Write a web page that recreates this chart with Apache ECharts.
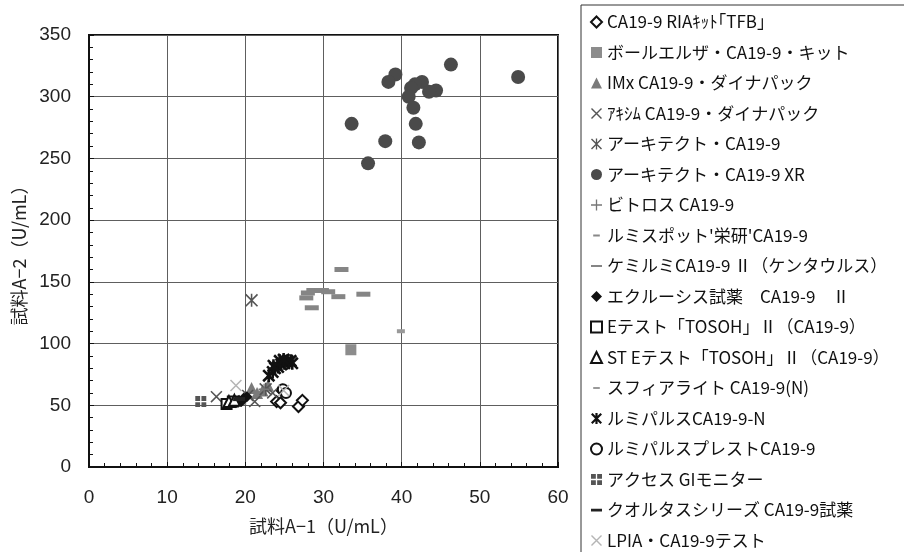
<!DOCTYPE html>
<html>
<head>
<meta charset="utf-8">
<script src="https://cdn.jsdelivr.net/npm/echarts@6/dist/echarts.min.js"></script>
<style>
  html, body { margin: 0; padding: 0; background: #fff; }
  #main { width: 904px; height: 552px; }
</style>
</head>
<body>
<div id="main"></div>
<script>
// ========================================
// データ（[試料A-1, 試料A-2] U/mL）
// ========================================
const seriesNames = [
  'CA19-9 RIAｷｯﾄ｢TFB｣',
  'ボールエルザ・CA19-9・キット',
  'IMx CA19-9・ダイナパック',
  'ｱｷｼﾑ CA19-9・ダイナパック',
  'アーキテクト・CA19-9',
  'アーキテクト・CA19-9 XR',
  'ビトロス CA19-9',
  'ルミスポット\'栄研\'CA19-9',
  'ケミルミCA19-9 Ⅱ（ケンタウルス）',
  'エクルーシス試薬　CA19-9　Ⅱ',
  'Eテスト「TOSOH」Ⅱ（CA19-9）',
  'ST Eテスト「TOSOH」Ⅱ（CA19-9）',
  'スフィアライト CA19-9(N)',
  'ルミパルスCA19-9-N',
  'ルミパルスプレストCA19-9',
  'アクセス GIモニター',
  'クオルタスシリーズ CA19-9試薬',
  'LPIA・CA19-9テスト'
];

const riaData = [[24.0, 53], [24.5, 52], [24.7, 62], [26.8, 49], [27.3, 54]];
const ballData = [[33.5, 95]];
const imxData = [[20.8, 64], [22.9, 66], [22.2, 62], [21.5, 60]];
const axsymData = [[16.3, 57], [21.2, 53], [20.3, 58], [23.5, 60]];
const architectData = [[20.8, 135], [22.6, 63]];
const architectXrData = [
  [46.3, 326], [54.9, 316], [39.2, 318], [38.3, 312], [42.6, 312],
  [41.7, 310], [41.2, 307], [44.4, 305], [43.5, 304], [40.9, 300],
  [41.5, 291], [33.6, 278], [41.8, 278], [37.9, 264], [42.2, 263],
  [35.7, 246]
];
const vitrosData = [[22.4, 63]];
const lumispotData = [[19.6, 52]];
const chemilumiData = [
  [32.3, 160], [28.7, 143], [29.8, 143], [30.6, 142], [28.0, 141],
  [27.8, 137], [31.9, 138], [35.1, 140], [28.5, 129]
];
const eclusysData = [[19.2, 54], [19.8, 56], [18.8, 52], [20.2, 57], [19.5, 53]];
const etestData = [[17.6, 51], [18.4, 53]];
const stEtestData = [[17.9, 53], [18.6, 54]];
const sphereData = [[39.9, 110]];
const lumipulseData = [
  [23.0, 74], [23.5, 77], [23.8, 80], [24.2, 81], [24.6, 83], [25.0, 84],
  [25.4, 86], [25.8, 86], [24.4, 86], [26.0, 84], [23.6, 82], [24.9, 87]
];
const prestoData = [[24.8, 63], [25.2, 60]];
const accessData = [[14.3, 53]];
const qualtasData = [[19.2, 55]];
const lpiaData = [[18.8, 66], [24.9, 62]];

const xTicks = { min: 0, max: 60, interval: 10 };
const yTicks = { min: 0, max: 350, interval: 50 };

// ========================================
// シンボル（path）
// ========================================
const PATH_X = 'path://M0,0.9 L0.9,0 L10,9.1 L9.1,10 Z M9.1,0 L10,0.9 L0.9,10 L0,9.1 Z';
const PATH_STAR = 'path://M0,0.9 L0.9,0 L10,9.1 L9.1,10 Z M9.1,0 L10,0.9 L0.9,10 L0,9.1 Z M4.4,0 L5.6,0 L5.6,10 L4.4,10 Z';
const PATH_STAR_BOLD = 'path://M0,1.4 L1.4,0 L10,8.6 L8.6,10 Z M8.6,0 L10,1.4 L1.4,10 L0,8.6 Z M4,0 L6,0 L6,10 L4,10 Z';
const PATH_PLUS = 'path://M4.4,0 L5.6,0 L5.6,10 L4.4,10 Z M0,4.4 L10,4.4 L10,5.6 L0,5.6 Z';
const PATH_GRID = 'path://M0,0 L4.4,0 L4.4,4.4 L0,4.4 Z M5.6,0 L10,0 L10,4.4 L5.6,4.4 Z M0,5.6 L4.4,5.6 L4.4,10 L0,10 Z M5.6,5.6 L10,5.6 L10,10 L5.6,10 Z';
// 凡例用（外枠を確保した短い棒）
const dot = function(x, y) { return 'M' + x + ',' + y + ' L' + (x + 0.01) + ',' + y + ' L' + x + ',' + (y + 0.01) + ' Z '; };
const PAD = dot(0, 0) + dot(9.99, 9.99);
const ICON_DASH_SHORT = 'path://' + PAD + 'M2,4 L8,4 L8,6 L2,6 Z';
const ICON_DASH_LONG = 'path://' + PAD + 'M0,4 L10,4 L10,6 L0,6 Z';
const ICON_DASH_BOLD = 'path://' + PAD + 'M0,3.8 L10,3.8 L10,6.4 L0,6.4 Z';

const styles = [
  { data: riaData, symbol: 'emptyDiamond', size: 11, color: '#111', icon: 'emptyDiamond' },
  { data: ballData, symbol: 'rect', size: 11, color: '#8c8c8c', icon: 'rect' },
  { data: imxData, symbol: 'triangle', size: 12, color: '#7a7a7a', icon: 'triangle' },
  { data: axsymData, symbol: PATH_X, size: 12, color: '#555', icon: PATH_X },
  { data: architectData, symbol: PATH_STAR, size: 13, color: '#555', icon: PATH_STAR },
  { data: architectXrData, symbol: 'circle', size: 14, color: '#4a4a4a', icon: 'circle' },
  { data: vitrosData, symbol: PATH_PLUS, size: 11, color: '#777', icon: PATH_PLUS },
  { data: lumispotData, symbol: 'rect', size: [8, 4], color: '#888', icon: ICON_DASH_SHORT },
  { data: chemilumiData, symbol: 'rect', size: [14, 5], color: '#858585', icon: ICON_DASH_LONG },
  { data: eclusysData, symbol: 'diamond', size: 11, color: '#111', icon: 'diamond' },
  { data: etestData, symbol: 'emptyRect', size: 10, color: '#111', icon: 'emptyRect' },
  { data: stEtestData, symbol: 'emptyTriangle', size: 11, color: '#111', icon: 'emptyTriangle' },
  { data: sphereData, symbol: 'rect', size: [8, 4], color: '#999', icon: ICON_DASH_SHORT },
  { data: lumipulseData, symbol: PATH_STAR_BOLD, size: 13, color: '#111', icon: PATH_STAR_BOLD },
  { data: prestoData, symbol: 'emptyCircle', size: 10, color: '#111', icon: 'emptyCircle' },
  { data: accessData, symbol: PATH_GRID, size: 11, color: '#555', icon: PATH_GRID },
  { data: qualtasData, symbol: 'rect', size: [12, 4], color: '#222', icon: ICON_DASH_BOLD },
  { data: lpiaData, symbol: PATH_X, size: 12, color: '#b5b5b5', icon: PATH_X }
];

// ========================================
// チャート
// ========================================
const FONT = '"Liberation Sans", "Noto Sans CJK JP", sans-serif';
const JP_FONT = '"Noto Sans CJK JP", sans-serif';
const myChart = echarts.init(document.getElementById('main'));

const series = styles.map(function(s, i) {
  return {
    name: seriesNames[i],
    type: 'scatter',
    data: s.data,
    symbol: s.symbol,
    symbolSize: s.size,
    itemStyle: { color: s.color, opacity: 1 },
    emphasis: { disabled: true },
    z: i === 5 ? 1 : 2
  };
});

const axisCommon = {
  type: 'value',
  axisLine: { show: true, onZero: false, lineStyle: { color: '#111', width: 2 } },
  axisTick: { show: true, inside: true, length: 5, lineStyle: { color: '#111' } },
  minorTick: { show: true, splitNumber: 5, length: 4, lineStyle: { color: '#111' } },
  splitLine: { show: true, lineStyle: { color: '#5e5e5e', width: 1 } },
  axisLabel: { color: '#222', fontSize: 19, fontFamily: FONT },
  nameLocation: 'middle',
  nameTextStyle: { color: '#222', fontSize: 18, fontFamily: JP_FONT }
};

const option = {
  backgroundColor: '#fff',
  animation: false,
  grid: {
    left: 89, right: 346, top: 35, bottom: 85,
    show: true, borderColor: '#111', borderWidth: 2
  },
  xAxis: Object.assign({}, axisCommon, {
    min: xTicks.min, max: xTicks.max, interval: xTicks.interval,
    axisLabel: Object.assign({}, axisCommon.axisLabel, { margin: 21 }),
    name: '試料A−1（U/mL）',
    nameGap: 50
  }),
  yAxis: Object.assign({}, axisCommon, {
    min: yTicks.min, max: yTicks.max, interval: yTicks.interval,
    axisLabel: Object.assign({}, axisCommon.axisLabel, { margin: 18 }),
    name: '試料A−2（U/mL）',
    nameGap: 60
  }),
  legend: {
    orient: 'vertical',
    left: 581,
    top: 5,
    height: 700,
    padding: [7, 20, 30, 9],
    borderColor: '#333',
    borderWidth: 1,
    itemWidth: 11,
    itemHeight: 11,
    itemGap: 10.5,
    selectedMode: false,
    textStyle: { color: '#111', fontSize: 17, lineHeight: 20, fontFamily: JP_FONT },
    data: styles.map(function(s, i) {
      return { name: seriesNames[i], icon: s.icon, itemStyle: { color: s.color } };
    })
  },
  series: series
};

myChart.setOption(option);
</script>
</body>
</html>
